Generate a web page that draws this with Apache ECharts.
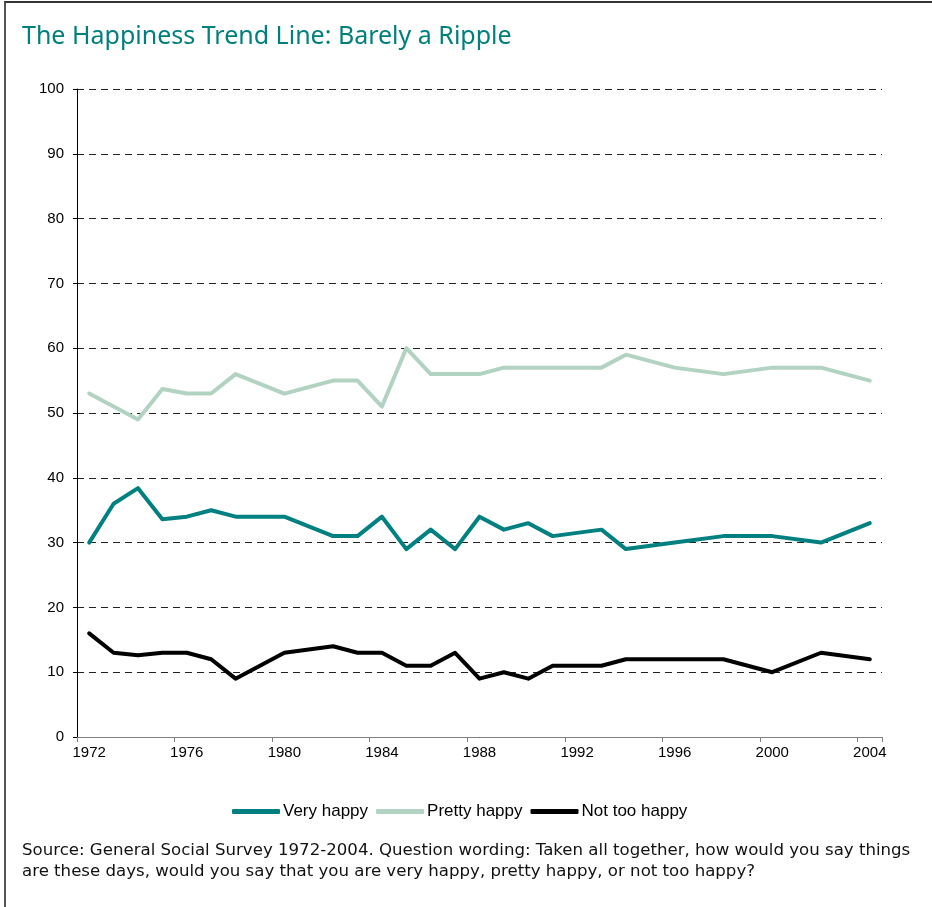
<!DOCTYPE html>
<html>
<head>
<meta charset="utf-8">
<script src="https://cdn.jsdelivr.net/npm/echarts@6/dist/echarts.min.js"></script>
<style>
  html, body { margin: 0; padding: 0; background: #fff; }
  #frame {
    position: absolute; left: 4px; top: 1px;
    width: 928px; height: 906px;
    border-top: 2px solid #333; border-left: 2px solid #555;
  }
  #chart { position: absolute; left: 0; top: 0; width: 932px; height: 907px; }
</style>
</head>
<body>
<div id="frame"></div>
<div id="chart"></div>
<script>
// all years on the axis, one band per year
const axisYears = []
for (let y = 1972; y <= 2004; y++) axisYears.push(String(y))

// GSS survey years
const surveyYears = [1972, 1973, 1974, 1975, 1976, 1977, 1978, 1980, 1982, 1983, 1984, 1985, 1986,
  1987, 1988, 1989, 1990, 1991, 1993, 1994, 1996, 1998, 2000, 2002, 2004]

const veryHappy = [30, 36, 38.4, 33.6, 34, 35, 34, 34, 31, 31, 34, 29, 32,
  29, 34, 32, 33, 31, 32, 29, 30, 31, 31, 30, 33]
const prettyHappy = [53, 51, 49, 53.7, 53, 53, 56, 53, 55, 55, 51, 60, 56,
  56, 56, 57, 57, 57, 57, 59, 57, 56, 57, 57, 55]
const notTooHappy = [16, 13, 12.6, 13, 13, 12, 9, 13, 14, 13, 13, 11, 11,
  13, 9, 10, 9, 11, 11, 12, 12, 12, 10, 13, 12]

const yTicks = [0, 10, 20, 30, 40, 50, 60, 70, 80, 90, 100]

const pairs = vals => surveyYears.map((y, i) => [String(y), vals[i]])

const chart = echarts.init(document.getElementById('chart'))

const lineSeries = (name, vals, color) => ({
  name: name,
  type: 'line',
  data: pairs(vals),
  symbol: 'none',
  lineStyle: {width: 4, color: color, cap: 'round', join: 'round'},
  itemStyle: {color: color},
  emphasis: {disabled: true}
})

chart.setOption({
  animation: false,
  title: [
    {
      text: 'The Happiness Trend Line: Barely a Ripple',
      left: 17,
      top: 19,
      textStyle: {color: '#00807c', fontSize: 25, fontWeight: 'normal', fontFamily: 'Noto Sans'}
    },
    {
      text: 'Source: General Social Survey 1972-2004. Question wording: Taken all together, how would you say things\nare these days, would you say that you are very happy, pretty happy, or not too happy?',
      left: 17,
      top: 835,
      textStyle: {color: '#111', fontSize: 16.6, fontWeight: 'normal', fontFamily: 'DejaVu Sans', lineHeight: 21}
    }
  ],
  legend: {
    top: 798,
    left: 227,
    itemWidth: 48,
    itemHeight: 5,
    itemGap: 8,
    icon: 'roundRect',
    textStyle: {fontSize: 17, color: '#000', fontFamily: 'Liberation Sans', padding: [0, 0, 0, -2]},
    data: ['Very happy', 'Pretty happy', 'Not too happy']
  },
  grid: {left: 77, right: 50, top: 89, bottom: 170, containLabel: false},
  xAxis: {
    type: 'category',
    data: axisYears,
    boundaryGap: true,
    axisLine: {lineStyle: {color: '#808080', width: 1}},
    axisTick: {show: true, interval: 3, length: 5, lineStyle: {color: '#808080'}},
    axisLabel: {interval: 3, color: '#000', fontSize: 15, fontFamily: 'Liberation Sans', margin: 8},
    splitLine: {show: false}
  },
  yAxis: {
    type: 'value',
    min: 0,
    max: 100,
    interval: 10,
    axisLine: {show: true, lineStyle: {color: '#000', width: 1}},
    axisTick: {show: true, length: 4, lineStyle: {color: '#000'}},
    axisLabel: {color: '#000', fontSize: 15, fontFamily: 'Liberation Sans', margin: 13,
      formatter: v => yTicks.includes(v) ? String(v) : ''},
    splitLine: {show: true, lineStyle: {color: '#222', type: [7, 5], width: 1}}
  },
  series: [
    lineSeries('Very happy', veryHappy, '#008080'),
    lineSeries('Pretty happy', prettyHappy, '#b2d3c1'),
    lineSeries('Not too happy', notTooHappy, '#000000')
  ]
})

window.addEventListener('resize', () => chart.resize())
</script>
</body>
</html>
